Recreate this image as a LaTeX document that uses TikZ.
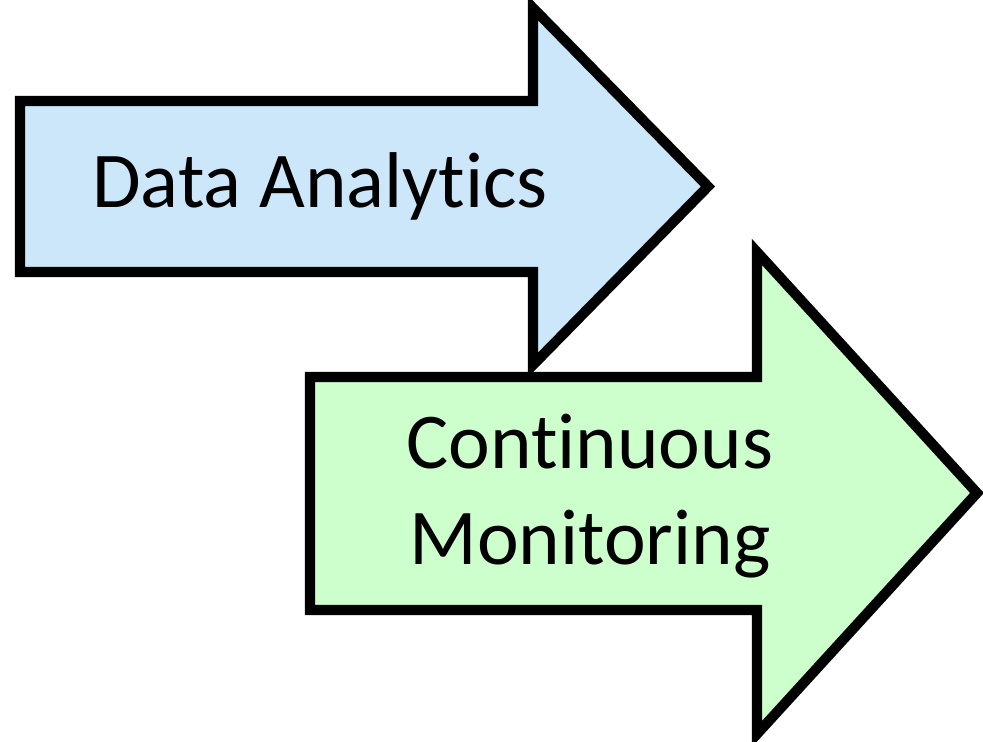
\documentclass[tikz,border=0pt]{standalone}
\usepackage{fontspec}
\setmainfont{Carlito}[Ligatures=NoCommon]
\definecolor{analyticsblue}{RGB}{204,230,250}
\definecolor{monitorgreen}{RGB}{204,255,204}
\tikzset{
  bigarrow/.style={draw=black, line width=2.9pt, miter limit=20},
  arrowtext/.style={font=\fontsize{22.5}{27.5}\selectfont, align=center, text=black}
}
\begin{document}
\begin{tikzpicture}
    \useasboundingbox (0, 0) rectangle (9.83, 7.42);
    \filldraw[bigarrow, fill=analyticsblue] (0.2, 6.41)--(5.33, 6.41)--(5.33, 7.34)--(7.08, 5.555)--(5.33, 3.77)--(5.33, 4.70)--(0.2, 4.70)--cycle;
    \filldraw[bigarrow, fill=monitorgreen] (3.1, 3.65)--(7.57, 3.65)--(7.57, 4.90)--(9.77, 2.49)--(7.57, 0.08)--(7.57, 1.32)--(3.1, 1.32)--cycle;
    \node[arrowtext] (analytics) at (3.2, 5.56) {Data Analytics};
    \node[arrowtext] (monitoring) at (5.9, 2.46) {Continuous\\Monitoring};
  \end{tikzpicture}
\end{document}
